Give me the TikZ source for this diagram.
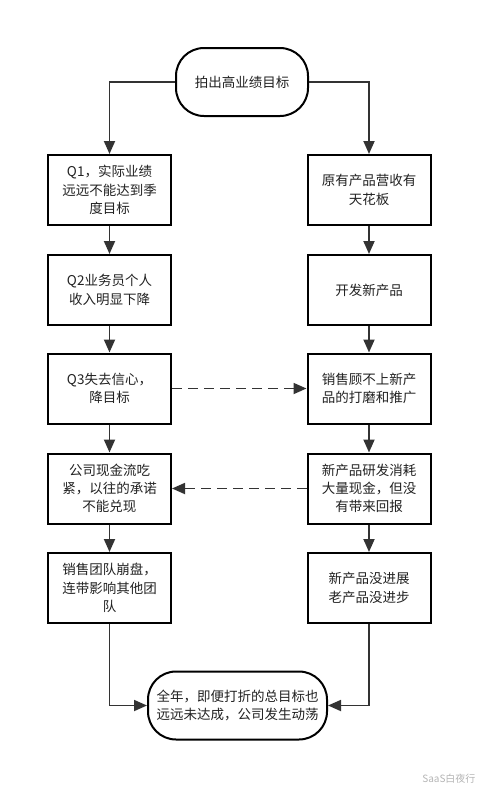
\documentclass[tikz,border=0pt]{standalone}
\usepackage{fontspec}
\setmainfont{Noto Sans CJK SC}
\usepackage{tikz}
\usetikzlibrary{arrows.meta, positioning}

\definecolor{lineclr}{HTML}{333333}
\definecolor{textclr}{HTML}{222222}
\definecolor{markclr}{HTML}{B4B4B4}

\tikzset{
  stepbox/.style={draw=black, line width=2pt, fill=white,
                  minimum width=123pt, minimum height=70pt,
                  inner sep=0pt, align=center, text=textclr,
                  font=\fontsize{13.5}{18.3}\selectfont},
  termbox/.style={stepbox, rounded corners=28pt, minimum height=68pt},
  flow/.style={draw=lineclr, line width=1.8pt,
               -{Triangle[length=13pt, width=11pt]}},
  dashflow/.style={flow, dash pattern=on 10pt off 6pt}
}

\begin{document}
\begin{tikzpicture}[x=1pt, y=-1pt]
  \useasboundingbox (0,0) rectangle (493,801);

  % start and end
  \node[termbox, minimum width=132pt] (start) at (242,82)  {拍出高业绩目标};
  \node[termbox, minimum width=179pt] (stop)  at (237.5,705.5)
        {全年，即便打折的总目标也\\远远未达成，公司发生动荡};

  % left column
  \node[stepbox] (q1)   at (109.5,190)   {Q1，实际业绩\\远远不能达到季\\度目标};
  \node[stepbox] (q2)   at (109.5,290)   {Q2业务员个人\\收入明显下降};
  \node[stepbox] (q3)   at (109.5,388.5) {Q3失去信心，\\降目标};
  \node[stepbox] (cash) at (109.5,488.5) {公司现金流吃\\紧，以往的承诺\\不能兑现};
  \node[stepbox] (team) at (109.5,588)   {销售团队崩盘，\\连带影响其他团\\队};

  % right column
  \node[stepbox] (cap)   at (369,190)   {原有产品营收有\\天花板};
  \node[stepbox] (dev)   at (369,290)   {开发新产品};
  \node[stepbox] (sale)  at (369,388.5) {销售顾不上新产\\品的打磨和推广};
  \node[stepbox] (cost)  at (369,488.5) {新产品研发消耗\\大量现金，但没\\有带来回报};
  \node[stepbox] (stall) at (369,588)   {新产品没进展\\老产品没进步};

  % connectors
  \draw[flow] (start.west) -| (q1.north);
  \draw[flow] (start.east) -| (cap.north);
  \draw[flow] (q1) -- (q2);
  \draw[flow] (q2) -- (q3);
  \draw[flow] (q3) -- (cash);
  \draw[flow] (cash) -- (team);
  \draw[flow] (cap) -- (dev);
  \draw[flow] (dev) -- (sale);
  \draw[flow] (sale) -- (cost);
  \draw[flow] (cost) -- (stall);
  \draw[flow] (team.south) |- (stop.west);
  \draw[flow] (stall.south) |- (stop.east);
  \draw[dashflow] (q3) -- (sale);
  \draw[dashflow] (cost) -- (cash);

  % watermark
  \node[text=markclr, font=\fontsize{10}{12}\selectfont, anchor=east]
        (mark) at (479,779) {SaaS白夜行};
\end{tikzpicture}
\end{document}
